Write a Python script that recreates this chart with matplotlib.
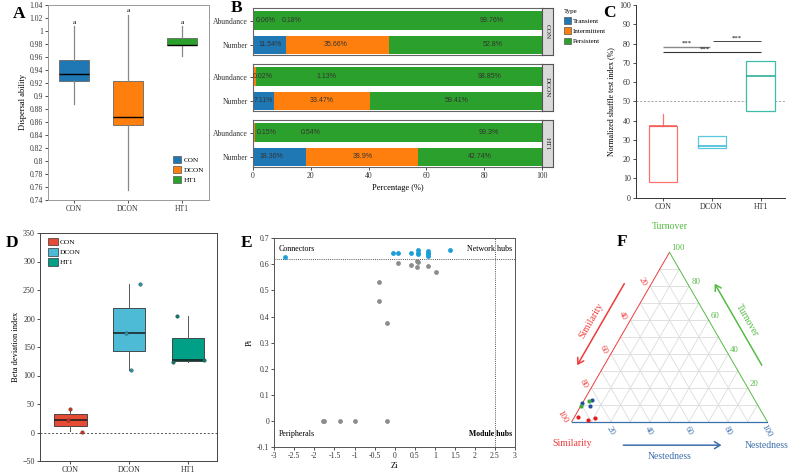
import numpy as np
import matplotlib
matplotlib.use('Agg')
import matplotlib.pyplot as plt
from matplotlib.patches import Patch, Rectangle, FancyArrowPatch

# ---------------- data ----------------
groups = ['CON', 'DCON', 'HT1']

# A: dispersal ability
A_q1 = [0.923, 0.856, 0.978]
A_med = [0.934, 0.867, 0.979]
A_q3 = [0.956, 0.923, 0.990]
A_lo = [0.887, 0.756, 0.962]
A_hi = [1.007, 1.024, 1.007]
A_sig = ['a', 'a', 'a']

# B: taxa type percentages
B_rows = ['Abundance', 'Number']
B_types = ['Transient', 'Intermittent', 'Persistent']
trans_abund = [0.06, 0.02, 0.15]
inter_abund = [0.18, 1.13, 0.54]
pers_abund = [99.76, 98.85, 99.3]
trans_num = [11.54, 7.11, 18.36]
inter_num = [35.66, 33.47, 38.9]
pers_num = [52.8, 59.41, 42.74]
abund_label_x = [[4.5, 13.5, 82.5], [3.5, 25.5, 82.0], [4.8, 20.0, 81.5]]
num_label_x = [[5.8, 28.5, 83.0], [3.6, 23.8, 70.3], [6.5, 37.8, 78.6]]

# C: normalized shuffle test index
C_q1 = [8, 26, 45]
C_med = [37, 27, 63]
C_q3 = [37, 32, 71]
C_lo = [8, 25.8, 45]
C_hi = [43.3, 32, 71]

# D: beta deviation index
D_q1 = [11.5, 142.6, 126]
D_med = [22, 175.3, 127]
D_q3 = [32.5, 218, 165.4]
D_lo = [2, 110, 123]
D_hi = [41, 260, 204.6]
D_points = [[41.3, 22, 0.3], [260.8, 175, 110], [204.6, 123.3, 127]]
D_jitter = [[0.0, -0.04, 0.2], [0.18, -0.06, 0.03], [-0.18, -0.25, 0.27]]

# E: Zi-Pi
E_blue_zi = [-2.73, -0.05, 0.085, 0.40, 0.59, 0.59, 0.59, 0.84, 0.84, 0.84, 0.84, 1.37]
E_blue_pi = [0.627, 0.644, 0.644, 0.643, 0.655, 0.645, 0.638, 0.651, 0.645, 0.640, 0.633, 0.655]
E_gray_zi = [0.09, 0.40, 0.55, 0.59, 0.55, 0.84, 1.02, -0.38, -0.38, -0.20, -1.79, -1.76, -1.36, -0.99, -0.20]
E_gray_pi = [0.606, 0.597, 0.614, 0.610, 0.589, 0.594, 0.570, 0.531, 0.461, 0.377, 0, 0, 0, 0, 0]

# F: ternary (Similarity, Turnover, Nestedness)
F_red = [(95.3, 2.6, 2.1), (91, 1, 8), (87, 2, 11)]
F_blue = [(89, 11, 0), (83, 13, 4), (86, 9, 5)]
F_green = [(90.5, 9.5, 0), (85, 12, 3)]
F_ticks = [20, 40, 60, 80, 100]

# ---------------- style ----------------
plt.rcParams['font.family'] = ['Liberation Serif', 'DejaVu Serif']
plt.rcParams['axes.linewidth'] = 0.7
plt.rcParams['xtick.major.width'] = 0.6
plt.rcParams['ytick.major.width'] = 0.6
plt.rcParams['xtick.major.size'] = 2.2
plt.rcParams['ytick.major.size'] = 2.2
plt.rcParams['xtick.major.pad'] = 1.5
plt.rcParams['ytick.major.pad'] = 1.5

W, H = 794, 474
fig = plt.figure(figsize=(W / 100, H / 100), dpi=100)


def px_axes(l, t, r, b, **kw):
    return fig.add_axes([l / W, 1 - b / H, (r - l) / W, (b - t) / H], **kw)


def gfmt(v):
    return f'{v:g}'


TS = 5.5   # tick label size
LS = 6.0   # axis label size

# ---------------- A ----------------
A_cols = ['#1f77b4', '#ff7f0e', '#2ca02c']
axA = px_axes(48, 5, 209, 200)
statsA = [dict(label=g, q1=a, med=m, q3=b, whislo=lo, whishi=hi, fliers=[])
          for g, a, m, b, lo, hi in zip(groups, A_q1, A_med, A_q3, A_lo, A_hi)]
bpA = axA.bxp(statsA, positions=range(3), widths=0.57, patch_artist=True,
              showfliers=False, showcaps=False,
              boxprops=dict(edgecolor='#666666', linewidth=0.6),
              medianprops=dict(color='black', linewidth=1.0),
              whiskerprops=dict(color='#888888', linewidth=0.9))
for p, c in zip(bpA['boxes'], A_cols):
    p.set_facecolor(c)
for i, (hi, s) in enumerate(zip(A_hi, A_sig)):
    axA.text(i, hi + 0.003, s, ha='center', va='bottom', fontsize=5.2)
axA.set_xlim(-0.48, 2.5)
axA.set_ylim(0.74, 1.04)
yt = np.round(np.arange(0.74, 1.0401, 0.02), 2)
axA.set_yticks(yt)
axA.set_yticklabels([gfmt(v) for v in yt])
axA.set_xticks(range(3))
axA.set_xticklabels(groups)
axA.tick_params(labelsize=TS, colors='#333333')
for s in axA.spines.values():
    s.set_color('#999999')
axA.set_ylabel('Dispersal ability', fontsize=LS, labelpad=2)
axA.legend([Patch(facecolor=c, edgecolor='#555555', lw=0.5) for c in A_cols], groups,
           loc='lower right', bbox_to_anchor=(1.0, 0.06), frameon=False, fontsize=5.2,
           handlelength=1.1, handleheight=1.1, labelspacing=0.45, handletextpad=0.3,
           borderaxespad=0.3)

# ---------------- B ----------------
B_cols = ['#1f77b4', '#ff7f0e', '#2ca02c']
tops = [8, 64, 120]
for i, fac in enumerate(groups):
    ax = px_axes(253, tops[i], 542, tops[i] + 47)
    rowvals = [[trans_abund[i], inter_abund[i], pers_abund[i]],
               [trans_num[i], inter_num[i], pers_num[i]]]
    rowpos = [1, 0]
    labx = [abund_label_x[i], num_label_x[i]]
    for r, vals in enumerate(rowvals):
        left = 0
        for k, v in enumerate(vals):
            ax.barh(rowpos[r], v, left=left, height=0.76, color=B_cols[k], lw=0)
            left += v
            ax.text(labx[r][k], rowpos[r], f'{v:g}%', ha='center', va='center',
                    fontsize=5.0, color='#333333', family=['Liberation Sans', 'DejaVu Sans'])
    ax.set_xlim(0, 100)
    ax.set_ylim(-0.42, 1.52)
    ax.set_yticks(rowpos)
    ax.set_yticklabels(B_rows)
    ax.set_xticks([0, 20, 40, 60, 80, 100])
    ax.tick_params(labelsize=TS, colors='#333333')
    if i < 2:
        ax.tick_params(labelbottom=False, bottom=False)
    else:
        ax.set_xlabel('Percentage (%)', fontsize=LS, labelpad=3)
    for s in ax.spines.values():
        s.set_color('#666666')
        s.set_linewidth(0.8)
    st = px_axes(542, tops[i], 553, tops[i] + 47)
    st.set_facecolor('#d9d9d9')
    st.set_xticks([])
    st.set_yticks([])
    for s in st.spines.values():
        s.set_color('#555555')
        s.set_linewidth(0.8)
    st.text(0.5, 0.5, fac, rotation=-90, ha='center', va='center', fontsize=5.2,
            transform=st.transAxes, color='#222222')

fig.legend([Patch(facecolor=c, edgecolor='#555555', lw=0.5) for c in B_cols], B_types,
           title='Type', alignment='left', loc='upper left',
           bbox_to_anchor=(561 / W, 1 - 6 / H), frameon=False, fontsize=5.0,
           title_fontproperties={'size': 5.0}, handlelength=1.1, handleheight=1.1,
           labelspacing=0.5, handletextpad=0.2, borderaxespad=0)

# ---------------- C ----------------
C_cols = ['#F8766D', '#5CC8E0', '#3DBDA7']
C_med_cols = ['#F05A50', '#36B4D6', '#1FA88E']
axC = px_axes(636, 5, 785, 197.7)
statsC = [dict(label=g, q1=a, med=m, q3=b, whislo=lo, whishi=hi, fliers=[])
          for g, a, m, b, lo, hi in zip(groups, C_q1, C_med, C_q3, C_lo, C_hi)]
bpC = axC.bxp(statsC, positions=range(3), widths=0.58, patch_artist=True,
              showfliers=False, showcaps=False,
              boxprops=dict(linewidth=0.9), medianprops=dict(linewidth=1.1),
              whiskerprops=dict(linewidth=0.9))
for k, c in enumerate(C_cols):
    bpC['boxes'][k].set_facecolor('white')
    bpC['boxes'][k].set_edgecolor(c)
    bpC['medians'][k].set_color(C_med_cols[k])
    bpC['whiskers'][2 * k].set_color(c)
    bpC['whiskers'][2 * k + 1].set_color(c)
axC.axhline(50, color='#999999', lw=0.6, ls=(0, (2.5, 2)), zorder=0)
sig_pairs = [(0, 0.97, 78.4, '#8a8a8a', 1.0), (1.02, 2, 81.1, '#444444', 0.7), (0, 2, 75.4, '#333333', 0.8)]
for x0, x1, yv, col, lw in sig_pairs:
    axC.plot([x0, x1], [yv, yv], color=col, lw=lw, solid_capstyle='butt')
    axC.text((x0 + x1) / 2 - (0.15 if x1 - x0 > 1.5 else 0), yv + 0.6, '***', ha='center', va='bottom', fontsize=4.8)
axC.set_xlim(-0.55, 2.5)
axC.set_ylim(0, 100)
axC.set_yticks(range(0, 101, 10))
axC.set_xticks(range(3))
axC.set_xticklabels(groups)
axC.spines['top'].set_visible(False)
axC.spines['right'].set_visible(False)
axC.spines['left'].set_color('#333333')
axC.spines['bottom'].set_color('#333333')
axC.tick_params(labelsize=5.8, colors='#333333')
axC.set_ylabel('Normalized shuffle test index (%)', fontsize=5.8, labelpad=3)

# ---------------- D ----------------
D_cols = ['#E64B35', '#4DBBD5', '#00A087']
D_pt_cols = ['#C8321F', '#2A8EA6', '#0A7A66']
axD = px_axes(40, 233, 217, 461)
statsD = [dict(label=g, q1=a, med=m, q3=b, whislo=lo, whishi=hi, fliers=[])
          for g, a, m, b, lo, hi in zip(groups, D_q1, D_med, D_q3, D_lo, D_hi)]
bpD = axD.bxp(statsD, positions=range(3), widths=0.55, patch_artist=True,
              showfliers=False, showcaps=False,
              boxprops=dict(edgecolor='#333333', linewidth=0.6),
              medianprops=dict(color='#1a1a1a', linewidth=1.1),
              whiskerprops=dict(color='#555555', linewidth=0.7))
for p, c in zip(bpD['boxes'], D_cols):
    p.set_facecolor(c)
for k in range(3):
    xs = [k + j for j in D_jitter[k]]
    axD.scatter(xs, D_points[k], s=7, color=D_pt_cols[k], edgecolors='#333333',
                linewidths=0.2, zorder=5)
axD.axhline(0, color='#555555', lw=0.7, ls=(0, (2, 2)), zorder=0)
axD.set_xlim(-0.52, 2.5)
axD.set_ylim(-50, 350)
axD.set_yticks(range(-50, 351, 50))
axD.set_xticks(range(3))
axD.set_xticklabels(groups)
axD.tick_params(labelsize=5.8, colors='#333333')
for s in axD.spines.values():
    s.set_color('#444444')
axD.set_ylabel('Beta deviation index', fontsize=6.0, labelpad=2)
axD.legend([Patch(facecolor=c, edgecolor='#333333', lw=0.5) for c in D_cols], groups,
           loc='upper left', bbox_to_anchor=(0.02, 1.0), frameon=False, fontsize=5.4,
           handlelength=1.3, handleheight=1.2, labelspacing=0.35, handletextpad=0.2,
           borderaxespad=0.2)

# ---------------- E ----------------
axE = px_axes(274.3, 238.2, 515, 447.3)
axE.scatter(E_gray_zi, E_gray_pi, s=12, color='#8c8c8c', lw=0, zorder=3)
axE.scatter(E_blue_zi, E_blue_pi, s=12, color='#1A9ED8', lw=0, zorder=4)
axE.axhline(0.62, color='#555555', lw=0.7, ls=(0, (1, 1.2)))
axE.axvline(2.5, color='#555555', lw=0.7, ls=(0, (1, 1.2)))
axE.set_xlim(-3, 3)
axE.set_ylim(-0.1, 0.7)
xt = np.round(np.arange(-3, 3.01, 0.5), 1)
axE.set_xticks(xt)
axE.set_xticklabels([gfmt(v) for v in xt])
ytE = np.round(np.arange(-0.1, 0.701, 0.1), 1)
axE.set_yticks(ytE)
axE.set_yticklabels([gfmt(v) for v in ytE])
axE.tick_params(labelsize=5.6, colors='#333333')
for s in axE.spines.values():
    s.set_color('#555555')
axE.set_xlabel('Zi', fontsize=6.0, labelpad=1)
axE.set_ylabel('Pi', fontsize=6.0, labelpad=2)
axE.text(-2.88, 0.657, 'Connectors', fontsize=5.8, ha='left', va='center')
axE.text(2.94, 0.657, 'Network hubs', fontsize=5.8, ha='right', va='center')
axE.text(-2.88, -0.048, 'Peripherals', fontsize=5.8, ha='left', va='center')
axE.text(2.94, -0.048, 'Module hubs', fontsize=5.6, ha='right', va='center', fontweight='bold')

# ---------------- F ----------------
s_px = 195.6
ox, oy = 571.7, 421.7
fl, fr, ft, fb = 520, 792, 215, 474
axF = px_axes(fl, ft, fr, fb)
axF.set_xlim((fl - ox) / s_px, (fr - ox) / s_px)
axF.set_ylim((oy - fb) / s_px, (oy - ft) / s_px)
axF.axis('off')
h = np.sqrt(3) / 2
red, green, blue = '#EE3B3B', '#55BB44', '#3C6EAA'


def tern(S, T, N):
    tot = S + T + N
    T, N = T / tot, N / tot
    return N + T / 2, T * h


# grid
for k in range(1, 10):
    f = k / 10
    axF.plot([f / 2, 1 - f / 2], [f * h, f * h], color='#dcdcdc', lw=0.6, zorder=1)
    axF.plot([f, f + (1 - f) / 2], [0, (1 - f) * h], color='#dcdcdc', lw=0.6, zorder=1)
    axF.plot([1 - f, (1 - f) / 2], [0, (1 - f) * h], color='#dcdcdc', lw=0.6, zorder=1)
# edges
axF.plot([0, 0.5], [0, h], color=red, lw=0.7, zorder=2)
axF.plot([0.5, 1], [h, 0], color=green, lw=0.7, zorder=2)
axF.plot([0, 1], [0, 0], color=blue, lw=0.9, zorder=2)

# tick labels
for v in F_ticks:
    f = v / 100
    # Similarity on left edge
    x, y = tern(f, 1 - f, 0)
    off = 8.5 if v < 100 else 10.5
    axF.annotate(str(v), (x, y), xytext=(-h * off * 0.72, 0.5 * off * 0.72),
                 textcoords='offset points', ha='center', va='center', rotation=-60,
                 fontsize=6.3, color=red)
    # Turnover on right edge
    x, y = tern(0, f, 1 - f)
    axF.annotate(str(v), (x, y), xytext=(1.5, 3), textcoords='offset points',
                 ha='left', va='center', fontsize=6.3, color=green)
    # Nestedness on bottom
    x, y = tern(1 - f, 0, f)
    axF.annotate(str(v), (x, y), xytext=(-0.5, -6.8), textcoords='offset points',
                 ha='center', va='center', rotation=-60, fontsize=6.3, color=blue)

# points
for pts, c in [(F_red, '#E41A1C'), (F_blue, '#2450A0'), (F_green, '#3DAA3D')]:
    xy = np.array([tern(*p) for p in pts])
    axF.scatter(xy[:, 0], xy[:, 1], s=9, color=c, lw=0, zorder=5)

# arrows and labels along the sides
d, u0, u1 = 0.12, 0.76, 0.25
nl = np.array([-h, 0.5])
nr = np.array([h, 0.5])


def left_pt(u, dd):
    return np.array([0.5 * u, h * u]) + dd * nl


def right_pt(u, dd):
    return np.array([1 - 0.5 * u, h * u]) + dd * nr


arrow_kw = dict(arrowstyle='->,head_length=4,head_width=2.5', lw=1.1, mutation_scale=1)
axF.add_patch(FancyArrowPatch(left_pt(u0, d), left_pt(u1, d), color=red, **arrow_kw))
axF.add_patch(FancyArrowPatch(right_pt(u1, d), right_pt(u0, d), color=green, **arrow_kw))
axF.add_patch(FancyArrowPatch((u1, -d), (u0 + 0.02, -d), color=blue, **arrow_kw))
p = left_pt(0.5, 0.172)
axF.text(p[0], p[1], 'Similarity', rotation=60, ha='center', va='center', fontsize=7, color=red)
p = right_pt(0.5, 0.17)
axF.text(p[0], p[1], 'Turnover', rotation=-60, ha='center', va='center', fontsize=7, color=green)
axF.text(0.5, -0.178, 'Nestedness', ha='center', va='center', fontsize=7, color=blue)
axF.text(0.0, -0.114, 'Similarity', ha='center', va='center', fontsize=7, color=red)
axF.text(0.997, -0.122, 'Nestedness', ha='center', va='center', fontsize=7, color=blue)
axF.text(0.5, 0.997, 'Turnover', ha='center', va='center', fontsize=7, color=green)

# ---------------- panel letters ----------------
for L, (x, y) in {'A': (19, 14), 'B': (237, 8), 'C': (609, 13),
                  'D': (12, 243), 'E': (247, 243), 'F': (622, 242)}.items():
    fig.text(x / W, 1 - y / H, L, fontsize=12.5, fontweight='bold', ha='center', va='center')

fig.savefig('out.png', dpi=100)
